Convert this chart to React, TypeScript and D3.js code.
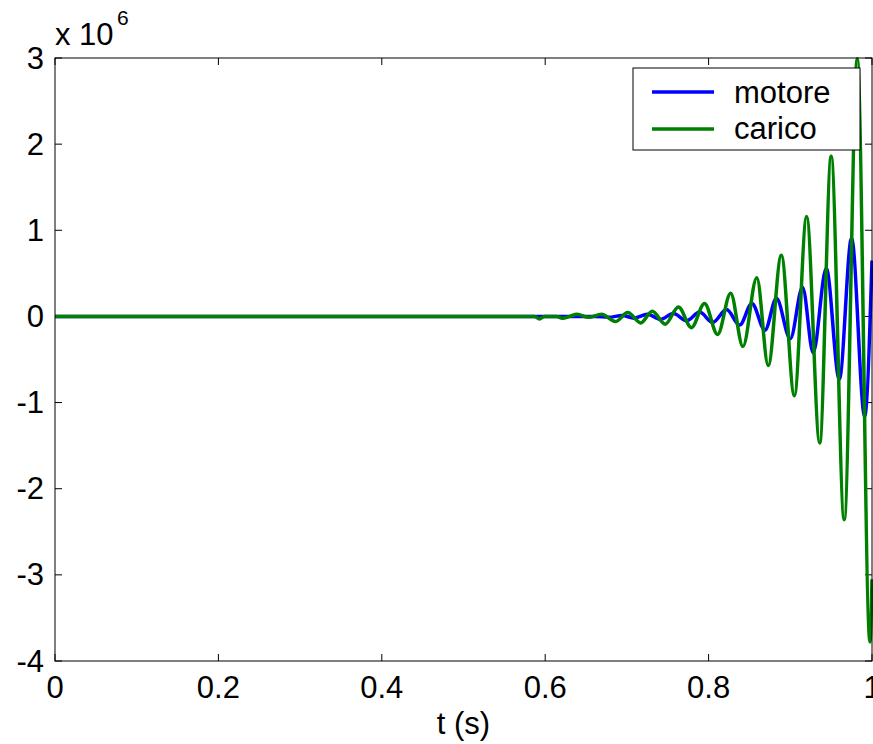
import React from "react";
import * as d3 from "d3";

// time (s) and value (x 1e6)
const motoreT = [0, 0.661, 0.678, 0.694, 0.709, 0.725, 0.741, 0.757, 0.773, 0.789, 0.805, 0.822, 0.838, 0.853, 0.869, 0.883, 0.9, 0.915, 0.928, 0.944, 0.96, 0.975, 0.991, 1.0];
const motoreV = [0, 0, -0.01, 0.012, -0.02, 0.025, -0.035, 0.035, -0.05, 0.05, -0.07, 0.08, -0.1, 0.15, -0.16, 0.21, -0.26, 0.34, -0.42, 0.56, -0.73, 0.91, -1.16, 0.65];

const caricoT = [0, 0.587, 0.593, 0.599, 0.614, 0.621, 0.63, 0.639, 0.653, 0.669, 0.686, 0.701, 0.717, 0.731, 0.747, 0.763, 0.779, 0.795, 0.811, 0.827, 0.842, 0.859, 0.873, 0.889, 0.905, 0.92, 0.936, 0.95, 0.966, 0.982, 0.9975, 1.0];
const caricoV = [0, 0, -0.03, 0, 0, -0.02, 0, 0.025, -0.01, 0.025, -0.06, 0.045, -0.075, 0.06, -0.09, 0.11, -0.13, 0.15, -0.21, 0.27, -0.35, 0.45, -0.57, 0.71, -0.92, 1.16, -1.47, 1.86, -2.36, 2.99, -3.78, -3.05];

const xTicks = [0, 0.2, 0.4, 0.6, 0.8, 1];
const yTicks = [-4, -3, -2, -1, 0, 1, 2, 3];
const seriesNames = ["motore", "carico"];
const seriesColors = ["#0000ff", "#008000"];

const W = 873;
const H = 744;
const L = 55, R = 872, T = 58, B = 661;
const FONT = "'Liberation Sans', Arial, Helvetica, sans-serif";
const FS = 31;

export default function App() {
  const x = d3.scaleLinear().domain([0, 1]).range([L, R]);
  const y = d3.scaleLinear().domain([-4, 3]).range([B, T]);
  const line = d3
    .line<[number, number]>()
    .x((d) => x(d[0]))
    .y((d) => y(d[1]))
    .curve(d3.curveMonotoneX);
  const motore = motoreT.map((t, i) => [t, motoreV[i]] as [number, number]);
  const carico = caricoT.map((t, i) => [t, caricoV[i]] as [number, number]);
  const tl = 7;

  return (
    <svg
      width={W}
      height={H}
      style={{ position: "absolute", left: 0, top: 0, background: "#fff" }}
      fontFamily={FONT}
    >
      <rect x={0} y={0} width={W} height={H} fill="#fff" />
      <rect x={L} y={T} width={R - L} height={B - T} fill="#fff" />
      {xTicks.map((t) => (
        <g key={"x" + t}>
          <line x1={x(t)} x2={x(t)} y1={B} y2={B - tl} stroke="#000" strokeWidth={1} />
          <line x1={x(t)} x2={x(t)} y1={T} y2={T + tl} stroke="#000" strokeWidth={1} />
          <text x={x(t)} y={698} fontSize={FS} textAnchor="middle" fill="#000">
            {String(t)}
          </text>
        </g>
      ))}
      {yTicks.map((v) => (
        <g key={"y" + v}>
          <line x1={L} x2={L + tl} y1={y(v)} y2={y(v)} stroke="#000" strokeWidth={1} />
          <line x1={R} x2={R - tl} y1={y(v)} y2={y(v)} stroke="#000" strokeWidth={1} />
          <text x={44} y={y(v) + 10.5} fontSize={FS} textAnchor="end" fill="#000">
            {String(v)}
          </text>
        </g>
      ))}
      <path d={line(motore) || ""} fill="none" stroke={seriesColors[0]} strokeWidth={3.5} strokeLinejoin="round" />
      <path d={line(carico) || ""} fill="none" stroke={seriesColors[1]} strokeWidth={3.5} strokeLinejoin="round" />
      <rect x={L} y={T} width={R - L} height={B - T} fill="none" stroke="#000" strokeWidth={1} />
      <text x={55} y={45} fontSize={FS} fill="#000">x 10</text>
      <text x={117} y={25} fontSize={21} fill="#000">6</text>
      <text x={(L + R) / 2} y={734} fontSize={FS} textAnchor="middle" fill="#000">t (s)</text>
      <rect x={633} y={68} width={227} height={82} fill="#fff" stroke="#000" strokeWidth={1} />
      {seriesNames.map((n, i) => (
        <g key={n}>
          <line x1={652} x2={714} y1={92 + i * 37} y2={92 + i * 37} stroke={seriesColors[i]} strokeWidth={3.5} />
          <text x={734} y={102.5 + i * 36} fontSize={FS} fill="#000">{n}</text>
        </g>
      ))}
    </svg>
  );
}
